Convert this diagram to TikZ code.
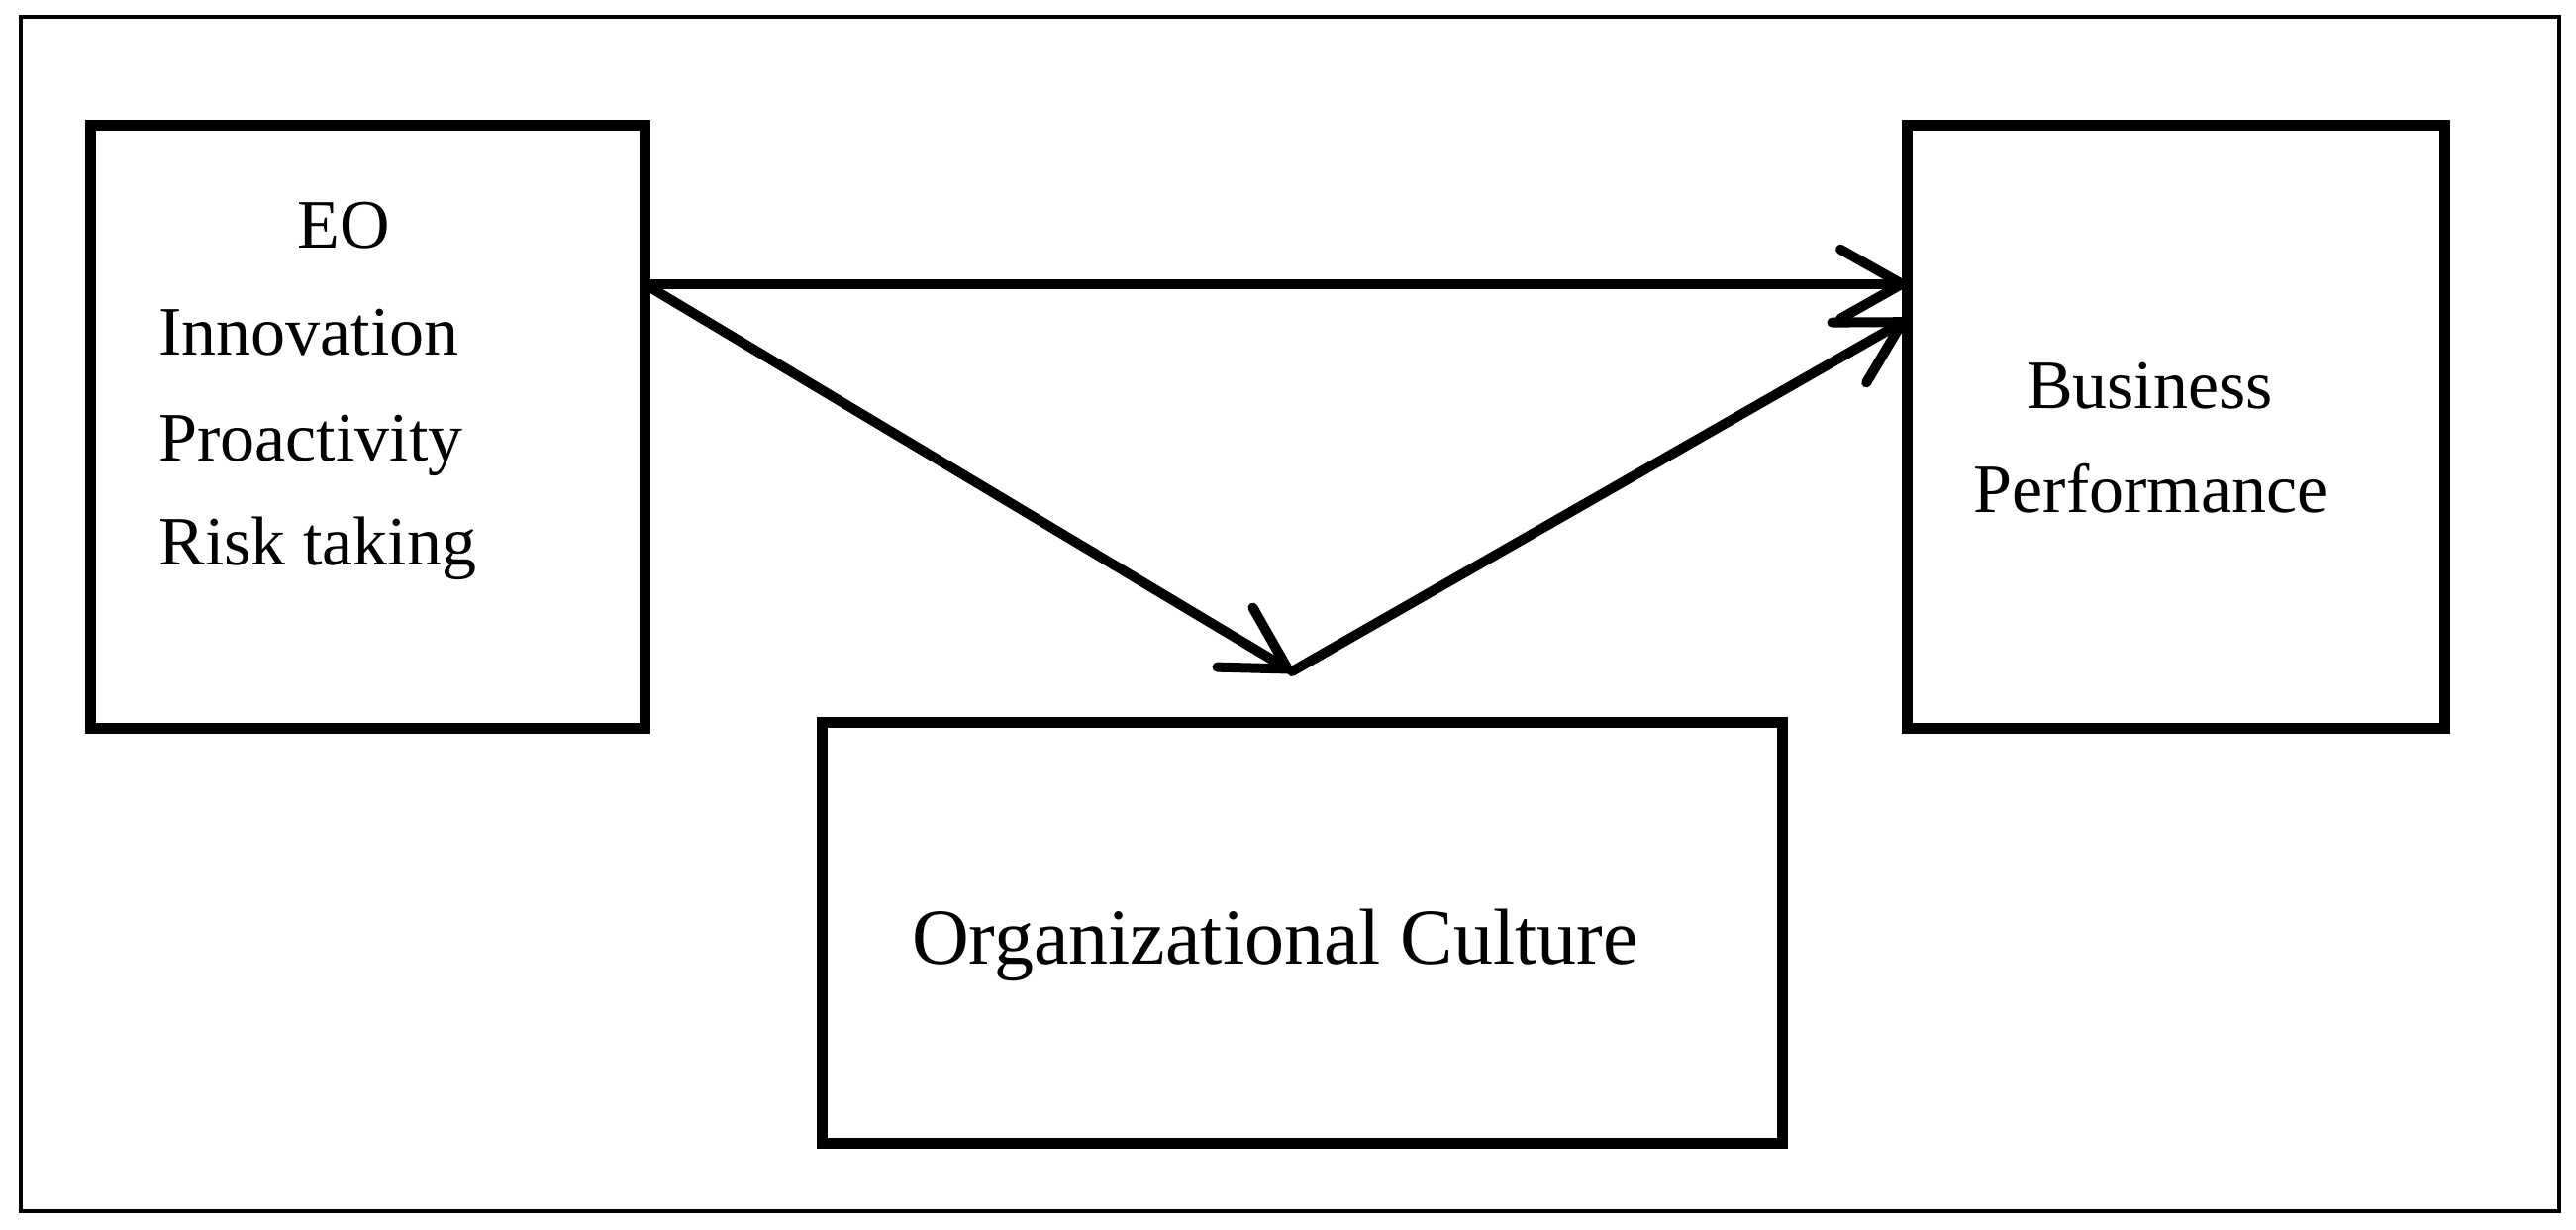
\documentclass[tikz,border=0pt]{standalone}
\usepackage{fontspec}
\setmainfont{Liberation Serif}
\usetikzlibrary{arrows.meta,calc}
\begin{document}
\begin{tikzpicture}[x=0.5pt,y=-0.5pt,
  box/.style={draw, line width=5.5pt, inner sep=0pt, outer sep=0pt, rectangle},
  frame/.style={draw, line width=2.2pt},
  lbl/.style={inner sep=0pt, font=\fontsize{35}{42}\selectfont},
  biglbl/.style={inner sep=0pt, font=\fontsize{40}{48}\selectfont},
  conn/.style={line width=5pt, line cap=round, -{Straight Barb[length=31pt,width=35pt,round]}}]
\useasboundingbox (0,0) rectangle (2602,1242);
\draw[frame] (21,17) rectangle (2585,1223);
\node[box, minimum width=280pt, minimum height=304.5pt] (eo) at (371,430.5) {};
\node[box, minimum width=271.5pt, minimum height=304.5pt] (bp) at (2197.5,430.5) {};
\node[box, minimum width=485pt, minimum height=212.5pt] (oc) at (1315,941.5) {};
\coordinate (s) at ($(eo.north east)!0.264!(eo.south east)$);
\coordinate (t1) at ($(bp.north west)!0.264!(bp.south west)$);
\coordinate (t2) at ($(bp.north west)!0.323!(bp.south west)$);
\coordinate (m) at ($(oc.north)+(-10,-51)$);
\draw[conn] (s) -- (t1);
\draw[conn] (s) -- (m);
\draw[conn] (m) -- (t2);
\node[lbl, anchor=base] (eot) at (347.5,250) {EO};
\node[lbl, anchor=base west] (inn) at (160,358) {Innovation};
\node[lbl, anchor=base west] (pro) at (160,465) {Proactivity};
\node[lbl, anchor=base west] (risk) at (160,570) {Risk taking};
\node[lbl, anchor=base] (bus) at (2171.5,412) {Business};
\node[lbl, anchor=base] (perf) at (2172.5,517) {Performance};
\node[biglbl, anchor=base] (oct) at (1288,973) {Organizational Culture};
\end{tikzpicture}
\end{document}
